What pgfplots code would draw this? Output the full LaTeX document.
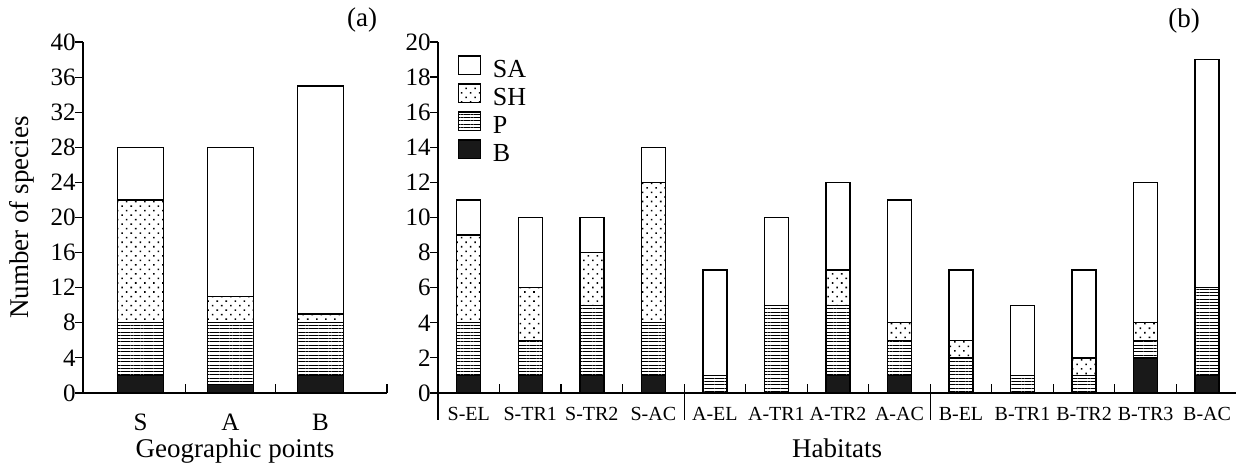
\documentclass[border=0pt]{standalone}
\usepackage{pgfplots}
\pgfplotsset{compat=1.18}
\usepackage{pgfplotstable}
\usetikzlibrary{patterns.meta}
\usepackage{fontspec}
\setmainfont{Liberation Serif}

% geographic points: B, P, SH, SA
\pgfplotstableread{
x B P SH SA
0 2 6 14 6
1 1 7 3 17
2 2 6 1 26
}\geo

% habitats
\pgfplotstableread{
x B P SH SA
0 1 3 5 2
1 1 2 3 4
2 1 4 3 2
3 1 3 8 2
4 0 1 0 6
5 0 5 0 5
6 1 4 2 5
7 1 2 1 7
8 0 2 1 4
9 0 1 0 4
10 0 1 1 5
11 2 1 1 8
12 1 5 0 13
}\hab

\pgfplotsset{
  panel/.style={
    scale only axis, height=175.5pt, anchor=south west,
    ybar stacked, ymin=0, clip=false,
    axis x line=bottom, axis y line=left,
    axis line style={-, line width=0.6pt},
    tick align=outside, major tick length=4pt, minor tick length=4.5pt,
    tick style={line width=0.6pt, black},
    major x tick style={draw=none},
    minor x tick style={yshift=4.5pt},
    /pgf/number format/assume math mode=true,
    yticklabel style={inner xsep=0pt, xshift=0.5pt},
    xticklabel style={anchor=base, inner sep=0pt, yshift=-15pt},
    label style={font=\fontsize{13.5}{16}\selectfont, inner sep=0pt},
    every axis plot/.append style={draw=black, line width=0.7pt},
    legend image code/.code={\draw[#1] (0pt,-0.5pt) rectangle (11pt,8.8pt);},
  },
  sB/.style={fill=black!90},
  sP/.style={pattern={Lines[angle=0,distance=1.65pt,line width=0.4pt]}},
  sSH/.style={pattern={Dots[angle=45,distance=3.2pt,radius=0.55pt]}},
  sSA/.style={fill=white},
}

\begin{document}
\fontsize{12.5}{15}\selectfont
\begin{tikzpicture}
\useasboundingbox (0,0) rectangle (618pt,232pt);

\begin{axis}[panel, at={(41.5pt,35.5pt)}, width=152pt, bar width=23pt,
  xmin=-0.64, xmax=2.74, ymax=40, ytick={0,4,...,40},
  xtick={0,1,2}, xticklabels={S,A,B}, minor xtick={0.5,1.5,2.74},
  ylabel={Number of species}, xlabel={Geographic points},
  ylabel style={at={(axis description cs:-0.2007,0.5)}, anchor=center},
  xlabel style={at={(axis description cs:0.5,-0.184)}, anchor=base},
]
\addplot[sB] table[x=x,y=B] {\geo};
\addplot[sP] table[x=x,y=P] {\geo};
\addplot[sSH] table[x=x,y=SH] {\geo};
\addplot[sSA] table[x=x,y=SA] {\geo};
\node[font=\fontsize{13.5}{16}\selectfont] at (axis description cs:0.918,1.063) {(a)};
\end{axis}

\begin{axis}[panel, at={(219pt,35.5pt)}, width=399pt, bar width=12pt,
  xmin=-0.5, xmax=12.47, ymax=20, ytick={0,2,...,20},
  xtick={0,...,12},
  xticklabels={S-EL,S-TR1,S-TR2,S-AC,A-EL,A-TR1,A-TR2,A-AC,B-EL,B-TR1,B-TR2,B-TR3,B-AC},
  xticklabel style={font=\fontsize{10}{12}\selectfont, yshift=5pt},
  minor xtick={0.5,1.5,...,11.5},
  xlabel={Habitats},
  xlabel style={at={(axis description cs:0.5,-0.184)}, anchor=base},
  reverse legend,
  legend style={at={(axis description cs:0.024,0.963)}, anchor=north west,
    draw=none, fill=none, inner sep=0pt, column sep=6pt, row sep=0pt,
    font=\fontsize{13}{15}\selectfont,
    nodes={inner sep=0pt, text height=7pt, text depth=2.7pt},
    cells={anchor=west}},
]
\addplot[sB] table[x=x,y=B] {\hab};
\addplot[sP] table[x=x,y=P] {\hab};
\addplot[sSH] table[x=x,y=SH] {\hab};
\addplot[sSA] table[x=x,y=SA] {\hab};
\legend{B,P,SH,SA}
\draw[line width=0.6pt] (axis cs:-0.5,0) -- ([yshift=-13.5pt]axis cs:-0.5,0);
\draw[line width=0.6pt] (axis cs:3.5,0) -- ([yshift=-13.5pt]axis cs:3.5,0);
\draw[line width=0.6pt] (axis cs:7.5,0) -- ([yshift=-13.5pt]axis cs:7.5,0);
\node[font=\fontsize{13.5}{16}\selectfont] at (axis description cs:0.935,1.06) {(b)};
\end{axis}
\end{tikzpicture}
\end{document}
